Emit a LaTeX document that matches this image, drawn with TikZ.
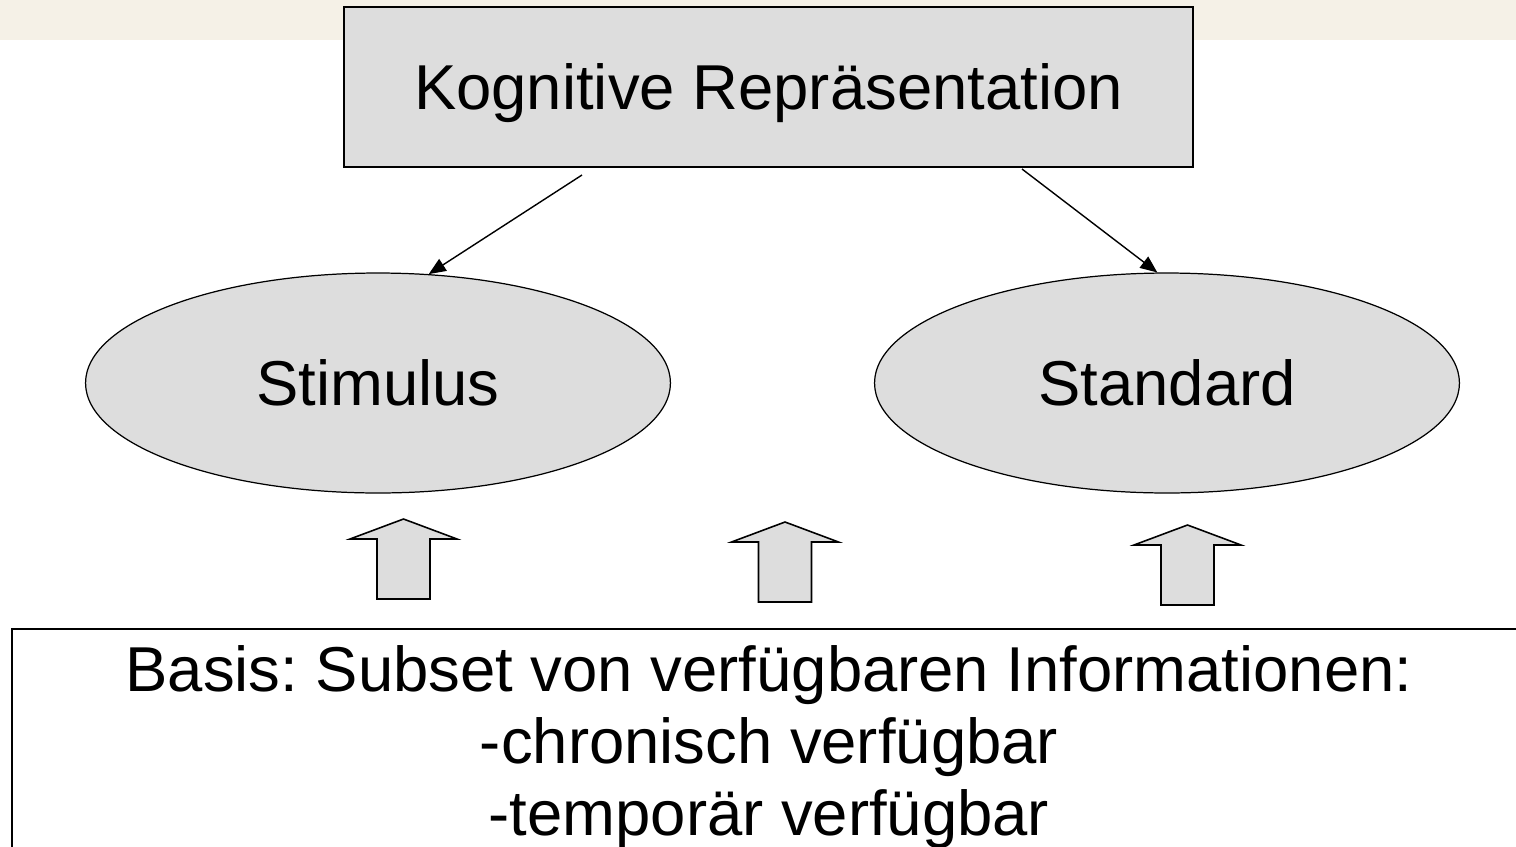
\documentclass[tikz,border=0pt]{standalone}
\usepackage{fontspec}
\setmainfont{Liberation Sans}
\usetikzlibrary{shapes.geometric,arrows.meta}
\definecolor{boxgray}{HTML}{DDDDDD}
\definecolor{bandbeige}{HTML}{F5F1E7}
\tikzset{
    bigfont/.style={font=\fontsize{36.1}{41}\selectfont\frenchspacing},
    repbox/.style={draw, line width=1.1pt, fill=boxgray, minimum width=16.98cm, minimum height=3.2cm, text depth=0pt, bigfont},
    repell/.style={draw, ellipse, line width=0.7pt, fill=boxgray, minimum width=11.7cm, minimum height=4.4cm, inner sep=0pt, bigfont},
    conn/.style={-{Triangle[length=0.34cm,width=0.28cm]}, line width=0.8pt},
    blockarrow/.style={draw, line width=0.9pt, fill=boxgray, line join=miter},
}
\begin{document}
\begin{tikzpicture}[x=0.02cm, y=-0.02cm]
    \useasboundingbox (0,0) rectangle (1516,846);
    \fill[bandbeige] (0,0) rectangle (1516,40);
    \node[repbox] (kog) at (768.5,87) {Kognitive Repräsentation};
    \node[repell] (stim) at (378,383) {Stimulus};
    \node[repell] (std) at (1167,383) {Standard};
    \coordinate (k1) at (582,175);
    \coordinate (k2) at (1022,169);
    \draw[conn] (k1) -- (stim.65);
    \draw[conn] (k2) -- (std.95);
    \foreach \x/\y in {403.5/519, 785/522, 1187.5/525}{
        \draw[blockarrow] (\x,\y) -- ++(53.5,20) -- ++(-27,0) -- ++(0,60) -- ++(-53,0) -- ++(0,-60) -- ++(-27,0) -- cycle;
    }
    \draw[line width=1.1pt] (1530,629) -- (12,629) -- (12,860);
    \node[bigfont, align=center, anchor=north, inner sep=0pt] (basis) at (769,645) {Basis: Subset von verfügbaren Informationen:\\-chronisch verfügbar\\-temporär verfügbar};
\end{tikzpicture}
\end{document}
